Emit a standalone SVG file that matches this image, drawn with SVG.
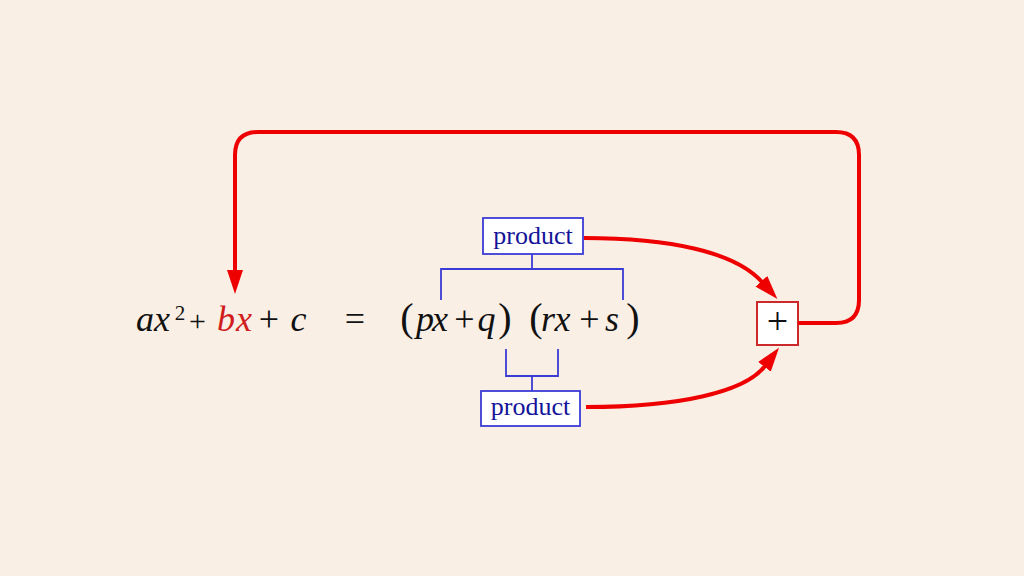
<svg xmlns="http://www.w3.org/2000/svg" width="1024" height="576" viewBox="0 0 1024 576">
<style>
.bg{fill:#faefe5}
.eq{font-family:"Liberation Serif","Times New Roman",serif;font-size:36px;fill:#111;text-anchor:middle}
.it{font-style:italic}
.red{fill:#d01c1c}
.par{font-size:40px}
.box{fill:#ffffff;stroke:#3b3bd6;stroke-width:1.8}
.lbl{font-family:"Liberation Serif","Times New Roman",serif;font-size:26px;fill:#14149a;text-anchor:middle}
.brk{fill:none;stroke:#3b3bd6;stroke-width:1.8}
.arr{fill:none;stroke:#ee0000;stroke-width:4;stroke-linecap:butt}
.plusbox{fill:#ffffff;stroke:#cc2a2a;stroke-width:2}
</style>
<defs>
<marker id="ah" markerUnits="userSpaceOnUse" markerWidth="24" markerHeight="16" viewBox="0 0 24 16" refX="1" refY="8" orient="auto">
<path d="M0,0 L24,8 L0,16 z" fill="#ee0000"/>
</marker>
</defs>
<rect class="bg" x="0" y="0" width="1024" height="576"/>

<g id="equation">
<text class="eq it" x="145" y="331">a</text>
<text class="eq it" x="162" y="331">x</text>
<text class="eq" x="180" y="320" style="font-size:21px">2</text>
<text class="eq" x="197.5" y="331" style="font-size:30px">+</text>
<text class="eq it red" x="226" y="331">b</text>
<text class="eq it red" x="244" y="331">x</text>
<text class="eq" x="269" y="331">+</text>
<text class="eq it" x="298.5" y="331">c</text>
<text class="eq" x="355" y="331">=</text>
<text class="eq par" x="407" y="331">(</text>
<text class="eq it" x="425" y="331">p</text>
<text class="eq it" x="440" y="331">x</text>
<text class="eq" x="464.5" y="331">+</text>
<text class="eq it" x="486.5" y="331">q</text>
<text class="eq par" x="505" y="331">)</text>
<text class="eq par" x="536" y="331">(</text>
<text class="eq it" x="548" y="331">r</text>
<text class="eq it" x="562.5" y="331">x</text>
<text class="eq" x="589.5" y="331">+</text>
<text class="eq it" x="612" y="331">s</text>
<text class="eq par" x="633" y="331">)</text>
</g>

<g id="product-top">
<rect class="box" x="483" y="218" width="100" height="36"/>
<text class="lbl" x="533" y="244">product</text>
</g>
<g id="bracket-top">
<path class="brk" d="M532,254 V269 M441,300 V269 H623 V300"/>
</g>

<g id="product-bottom">
<rect class="box" x="481" y="391" width="99" height="35"/>
<text class="lbl" x="530.5" y="415">product</text>
</g>
<g id="bracket-bottom">
<path class="brk" d="M532,391 V376 M506,349 V376 H558 V349"/>
</g>

<g id="plus">
<rect class="plusbox" x="757" y="302" width="41" height="43"/>
<text class="eq" x="777.5" y="334" style="font-size:38px">+</text>
</g>

<g id="connectors">
<path class="arr" d="M584,238 C670,238 735,252 762,282" marker-end="url(#ah)"/>
<path class="arr" d="M586,407 C680,407 745,392 765,366" marker-end="url(#ah)"/>
<path class="arr" d="M798,323 L836,323 Q859,323 859,300 L859,155 Q859,132 836,132 L258,132 Q235,132 235,155 L235,271" marker-end="url(#ah)"/>
</g>
</svg>
